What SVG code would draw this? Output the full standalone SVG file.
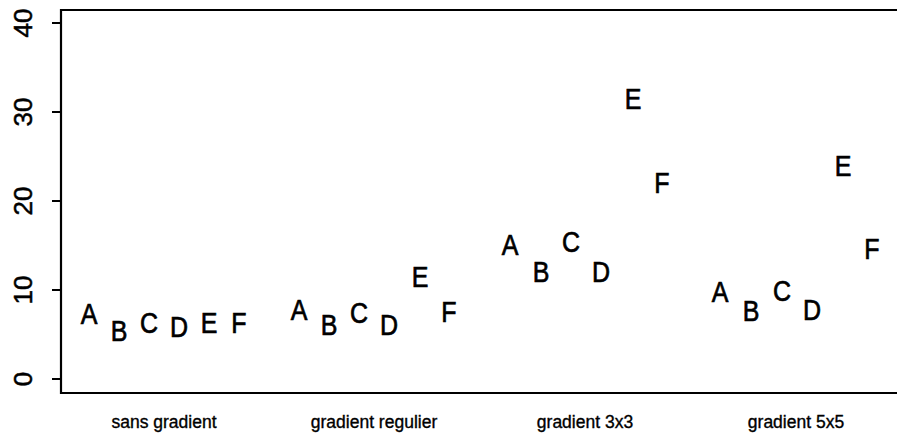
<svg xmlns="http://www.w3.org/2000/svg" width="897" height="436" viewBox="0 0 897 436">
<style>
.ax{stroke:#000;stroke-width:2.2;fill:none}
.pt{font-family:"Liberation Sans",Arial,sans-serif;font-size:25px;text-anchor:middle;fill:#000;stroke:#000;stroke-width:0.6}
.tk{font-family:"Liberation Sans",Arial,sans-serif;font-size:26px;text-anchor:middle;fill:#000;stroke:#000;stroke-width:0.5}
.lb{font-family:"Liberation Sans",Arial,sans-serif;font-size:17.5px;text-anchor:middle;fill:#000;stroke:#000;stroke-width:0.35}
</style>
<rect width="897" height="436" fill="#fff"/>
<g id="axes">
<path class="ax" d="M897,10 H61 V393 H897"/>
<path class="ax" d="M52,23 H61 M52,112 H61 M52,201 H61 M52,290 H61 M52,379 H61"/>
<text class="tk" transform="translate(32,379) rotate(-90)">0</text>
<text class="tk" transform="translate(32,290) rotate(-90)">10</text>
<text class="tk" transform="translate(32,201) rotate(-90)">20</text>
<text class="tk" transform="translate(32,112) rotate(-90)">30</text>
<text class="tk" transform="translate(32,23) rotate(-90)">40</text>
</g>
<g id="labels">
<text class="lb" x="164" y="428">sans gradient</text>
<text class="lb" x="374" y="428">gradient regulier</text>
<text class="lb" x="585" y="428">gradient 3x3</text>
<text class="lb" x="796" y="428">gradient 5x5</text>
</g>
<g id="g1">
<text class="pt" transform="translate(89,324) scale(1,1.15)">A</text>
<text class="pt" transform="translate(119,341) scale(1,1.15)">B</text>
<text class="pt" transform="translate(149,333) scale(1,1.15)">C</text>
<text class="pt" transform="translate(179,337) scale(1,1.15)">D</text>
<text class="pt" transform="translate(209,333) scale(1,1.15)">E</text>
<text class="pt" transform="translate(239,333) scale(1,1.15)">F</text>
</g>
<g id="g2">
<text class="pt" transform="translate(299,320) scale(1,1.15)">A</text>
<text class="pt" transform="translate(329,335) scale(1,1.15)">B</text>
<text class="pt" transform="translate(359,323) scale(1,1.15)">C</text>
<text class="pt" transform="translate(389,335) scale(1,1.15)">D</text>
<text class="pt" transform="translate(420,287) scale(1,1.15)">E</text>
<text class="pt" transform="translate(449,322) scale(1,1.15)">F</text>
</g>
<g id="g3">
<text class="pt" transform="translate(510,255) scale(1,1.15)">A</text>
<text class="pt" transform="translate(541,282) scale(1,1.15)">B</text>
<text class="pt" transform="translate(571,252) scale(1,1.15)">C</text>
<text class="pt" transform="translate(601,282) scale(1,1.15)">D</text>
<text class="pt" transform="translate(633,109) scale(1,1.15)">E</text>
<text class="pt" transform="translate(662,193) scale(1,1.15)">F</text>
</g>
<g id="g4">
<text class="pt" transform="translate(720,302) scale(1,1.15)">A</text>
<text class="pt" transform="translate(751,321) scale(1,1.15)">B</text>
<text class="pt" transform="translate(782,301) scale(1,1.15)">C</text>
<text class="pt" transform="translate(812,320) scale(1,1.15)">D</text>
<text class="pt" transform="translate(843,176) scale(1,1.15)">E</text>
<text class="pt" transform="translate(872,259) scale(1,1.15)">F</text>
</g>
</svg>
